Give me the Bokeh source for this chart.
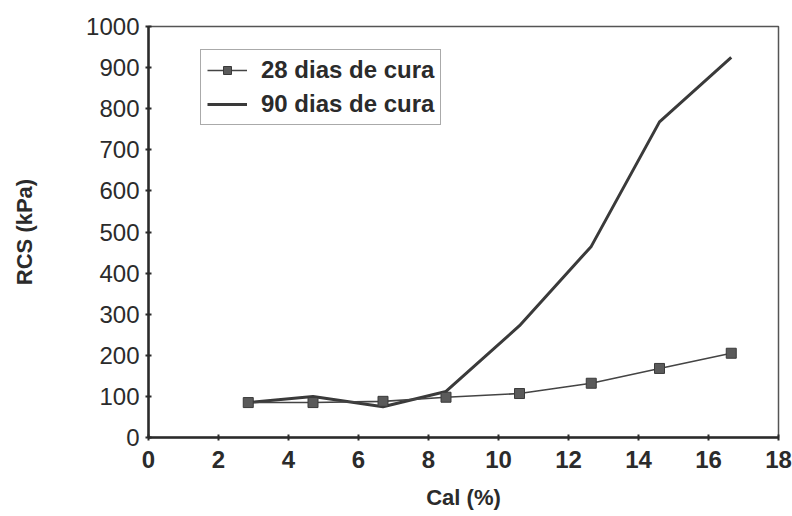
from bokeh.plotting import figure
from bokeh.models import Legend, LegendItem, ColumnDataSource
from bokeh.embed import file_html
from bokeh.resources import INLINE

cal_28 = [2.85, 4.7, 6.7, 8.5, 10.6, 12.65, 14.6, 16.65]
rcs_28 = [85, 85, 88, 98, 107, 132, 168, 205]
cal_90 = [2.85, 4.7, 6.7, 8.5, 10.6, 12.65, 14.6, 16.65]
rcs_90 = [85, 100, 75, 112, 272, 465, 768, 925]
x_ticks = [0, 2, 4, 6, 8, 10, 12, 14, 16, 18]
y_ticks = [0, 100, 200, 300, 400, 500, 600, 700, 800, 900, 1000]

FONT = "Liberation Sans"
INK = "#2b2b2b"

p = figure(width=792, height=516, output_backend="svg", toolbar_location=None,
           x_range=(0, 18), y_range=(0, 1000))
p.min_border_left = 148
p.min_border_right = 14
p.min_border_top = 26
p.min_border_bottom = 79
p.outline_line_color = "#555555"
p.outline_line_width = 1.5
p.grid.visible = False
p.background_fill_color = "white"
p.border_fill_color = "white"

for ax in (p.xaxis[0], p.yaxis[0]):
    ax.axis_line_width = 2.5
    ax.axis_line_color = INK
    ax.major_tick_line_color = INK
    ax.major_tick_line_width = 2
    ax.major_tick_in = 3
    ax.major_tick_out = 3
    ax.minor_tick_line_color = None
    ax.major_label_text_font = FONT
    ax.major_label_text_font_size = "24px"
    ax.major_label_text_color = INK
    ax.axis_label_text_font = FONT
    ax.axis_label_text_font_size = "22px"
    ax.axis_label_text_font_style = "bold"
    ax.axis_label_text_color = INK

p.xaxis.ticker = x_ticks
p.yaxis.ticker = y_ticks
p.xaxis.major_label_text_font_style = "bold"
p.xaxis.major_label_standoff = 10
p.yaxis.major_label_standoff = 6
p.xaxis.axis_label = "Cal (%)"
p.yaxis.axis_label = "RCS (kPa)"
p.xaxis.axis_label_standoff = 14
p.yaxis.axis_label_standoff = 46

src28 = ColumnDataSource(dict(x=cal_28, y=rcs_28))
src90 = ColumnDataSource(dict(x=cal_90, y=rcs_90))

r90 = p.line("x", "y", source=src90, line_color="#3a3a3a", line_width=3)
l28 = p.line("x", "y", source=src28, line_color="#444444", line_width=1.6)
s28 = p.scatter("x", "y", source=src28, marker="square", size=10,
                fill_color="#5a5a5a", line_color="#3a3a3a", line_width=1)

legend = Legend(items=[
    LegendItem(label="28 dias de cura", renderers=[l28, s28]),
    LegendItem(label="90 dias de cura", renderers=[r90]),
], location=(52, 312))
legend.label_text_font = FONT
legend.label_text_font_size = "24px"
legend.label_text_font_style = "bold"
legend.label_text_color = INK
legend.border_line_color = "#555555"
legend.border_line_width = 1.5
legend.glyph_width = 40
legend.label_standoff = 14
legend.padding = 6
legend.spacing = 6
legend.margin = 0
p.add_layout(legend, "center")

open("out.html", "w").write(file_html(p, INLINE))
